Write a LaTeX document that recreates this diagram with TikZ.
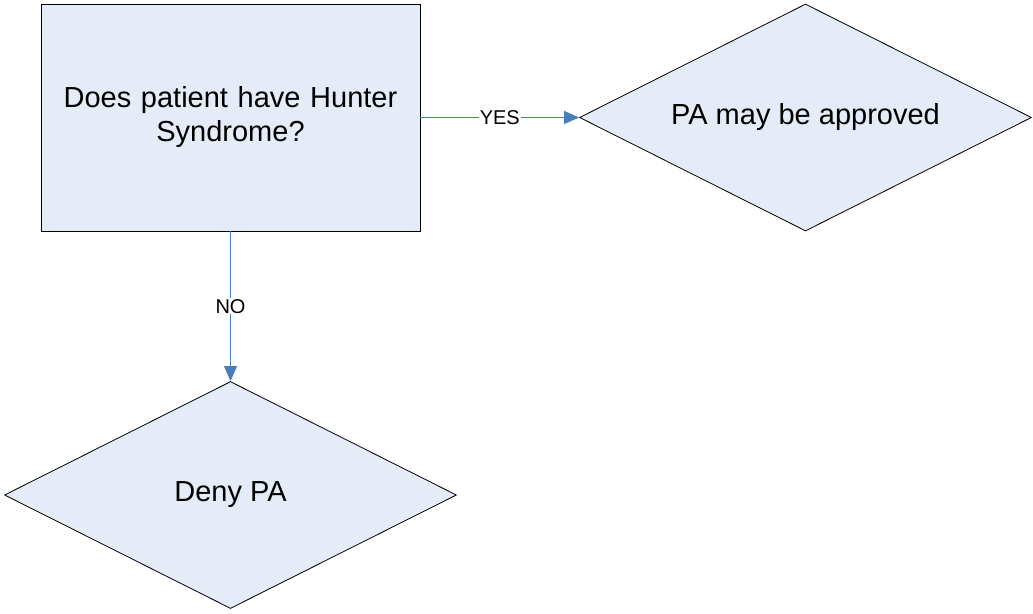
\documentclass[tikz,border=0pt]{standalone}
\usepackage{fontspec}
\setmainfont{Liberation Sans}
\usetikzlibrary{shapes.geometric,arrows.meta}
\definecolor{boxfill}{HTML}{E6ECF7}
\definecolor{linkblue}{HTML}{4A7EBB}
\begin{document}
\begin{tikzpicture}[x=1pt,y=-1pt,
  question/.style={draw=black,line width=0.9pt,fill=boxfill,rectangle,
    minimum width=379pt,minimum height=227pt,inner sep=0pt,
    align=center,text width=340pt,font=\fontsize{29}{34}\selectfont},
  outcome/.style={draw=black,line width=0.8pt,fill=boxfill,diamond,
    minimum width=452pt,minimum height=227pt,inner sep=0pt},
  caption/.style={font=\fontsize{29}{34}\selectfont,inner sep=0pt},
  link/.style={draw=linkblue,line width=0.8pt,
    -{Triangle[length=15pt,width=13pt,color=linkblue,fill=linkblue]}},
  tag/.style={fill=white,inner sep=1pt,text=black,font=\fontsize{20}{24}\selectfont}]
  \useasboundingbox (0,0) rectangle (1033,613);
  \node[question] (q) at (230.5,117.5) {\strut Does patient have Hunter\\\strut Syndrome?};
  \node[outcome] (yes) at (805.5,117.5) {};
  \node[caption] (yestext) at (805.5,117) {PA may be approved};
  \node[outcome] (no) at (230.5,495) {};
  \node[caption] (notext) at (230.5,495) {Deny PA};
  \draw[link] (q.east) -- node[tag] {YES} (yes.west);
  \draw[link] (q.south) -- node[tag] {NO} (no.north);
\end{tikzpicture}
\end{document}
